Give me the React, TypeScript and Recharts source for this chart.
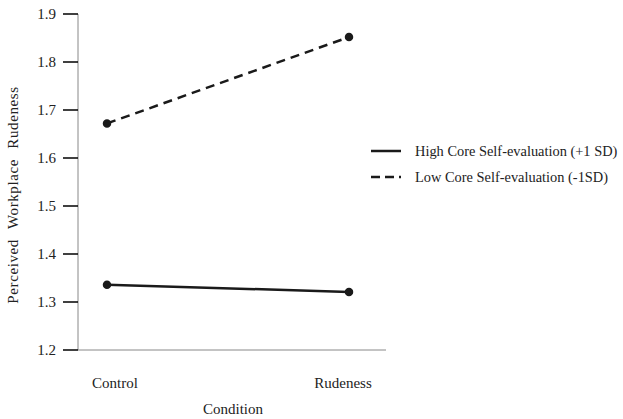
import { LineChart, Line, XAxis, YAxis, Label } from "recharts"

const conditions = ["Control", "Rudeness"]
const highCse = [1.336, 1.321]
const lowCse = [1.672, 1.852]
const yTicks = [1.2, 1.3, 1.4, 1.5, 1.6, 1.7, 1.8, 1.9]
const seriesLabels = ["High Core Self-evaluation (+1 SD)", "Low Core Self-evaluation (-1SD)"]

const data = conditions.map((c, i) => ({ condition: c, high: highCse[i], low: lowCse[i] }))

const FONT = "'Liberation Serif', 'Times New Roman', serif"
const INK = "#1a1a1a"
const TEXT = "#222"

const tickShift: Record<string, number> = { Control: 8, Rudeness: -6 }

function XTick({ x, y, payload }: any) {
  return (
    <text x={x + (tickShift[payload.value] ?? 0)} y={y + 30} textAnchor="middle" fontFamily={FONT} fontSize={15} fill={TEXT}>
      {payload.value}
    </text>
  )
}

function LegendBox() {
  const dashes = [undefined, "9 5"]
  return (
    <div style={{ position: "absolute", left: 371, top: 138, fontFamily: FONT, fontSize: 14.4, color: TEXT }}>
      {seriesLabels.map((label, i) => (
        <div key={label} style={{ display: "flex", alignItems: "center", height: 26, whiteSpace: "nowrap" }}>
          <svg width={44} height={10}>
            <line x1={0} y1={5} x2={30} y2={5} stroke={INK} strokeWidth={2.5} strokeDasharray={dashes[i]} />
          </svg>
          <span>{label}</span>
        </div>
      ))}
    </div>
  )
}

export default function App() {
  return (
    <div style={{ position: "absolute", left: 0, top: 0, width: 623, height: 419, background: "#fff" }}>
      <LineChart width={623} height={419} data={data} margin={{ top: 14, right: 237, bottom: 0, left: 0 }}>
        <XAxis
          dataKey="condition"
          padding={{ left: 29, right: 37 }}
          stroke="#888"
          tickLine={false}
          tick={<XTick />}
          height={69}
        >
          <Label
            content={() => (
              <text x={233} y={414} textAnchor="middle" fontFamily={FONT} fontSize={15} fill={TEXT}>
                Condition
              </text>
            )}
          />
        </XAxis>
        <YAxis
          domain={[1.2, 1.9]}
          ticks={yTicks}
          width={78}
          stroke="#888"
          tickSize={15}
          tickLine={{ stroke: "#000", strokeWidth: 1.5 }}
          tickFormatter={(v: number) => v.toFixed(1)}
          tick={{ fontFamily: FONT, fontSize: 15, fill: TEXT, dx: -5 }}
        >
          <Label
            content={() => (
              <text
                x={18}
                y={195}
                transform="rotate(-90 18 195)"
                textAnchor="middle"
                fontFamily={FONT}
                fontSize={15}
                letterSpacing={0.6}
                wordSpacing={6}
                fill={TEXT}
              >
                Perceived Workplace Rudeness
              </text>
            )}
          />
        </YAxis>
        <Line
          dataKey="high"
          stroke={INK}
          strokeWidth={2.5}
          dot={{ r: 3, fill: INK, stroke: INK }}
          isAnimationActive={false}
        />
        <Line
          dataKey="low"
          stroke={INK}
          strokeWidth={2.5}
          strokeDasharray="9 6"
          dot={{ r: 3, fill: INK, stroke: INK, strokeDasharray: "0" }}
          isAnimationActive={false}
        />
      </LineChart>
      <LegendBox />
    </div>
  )
}
